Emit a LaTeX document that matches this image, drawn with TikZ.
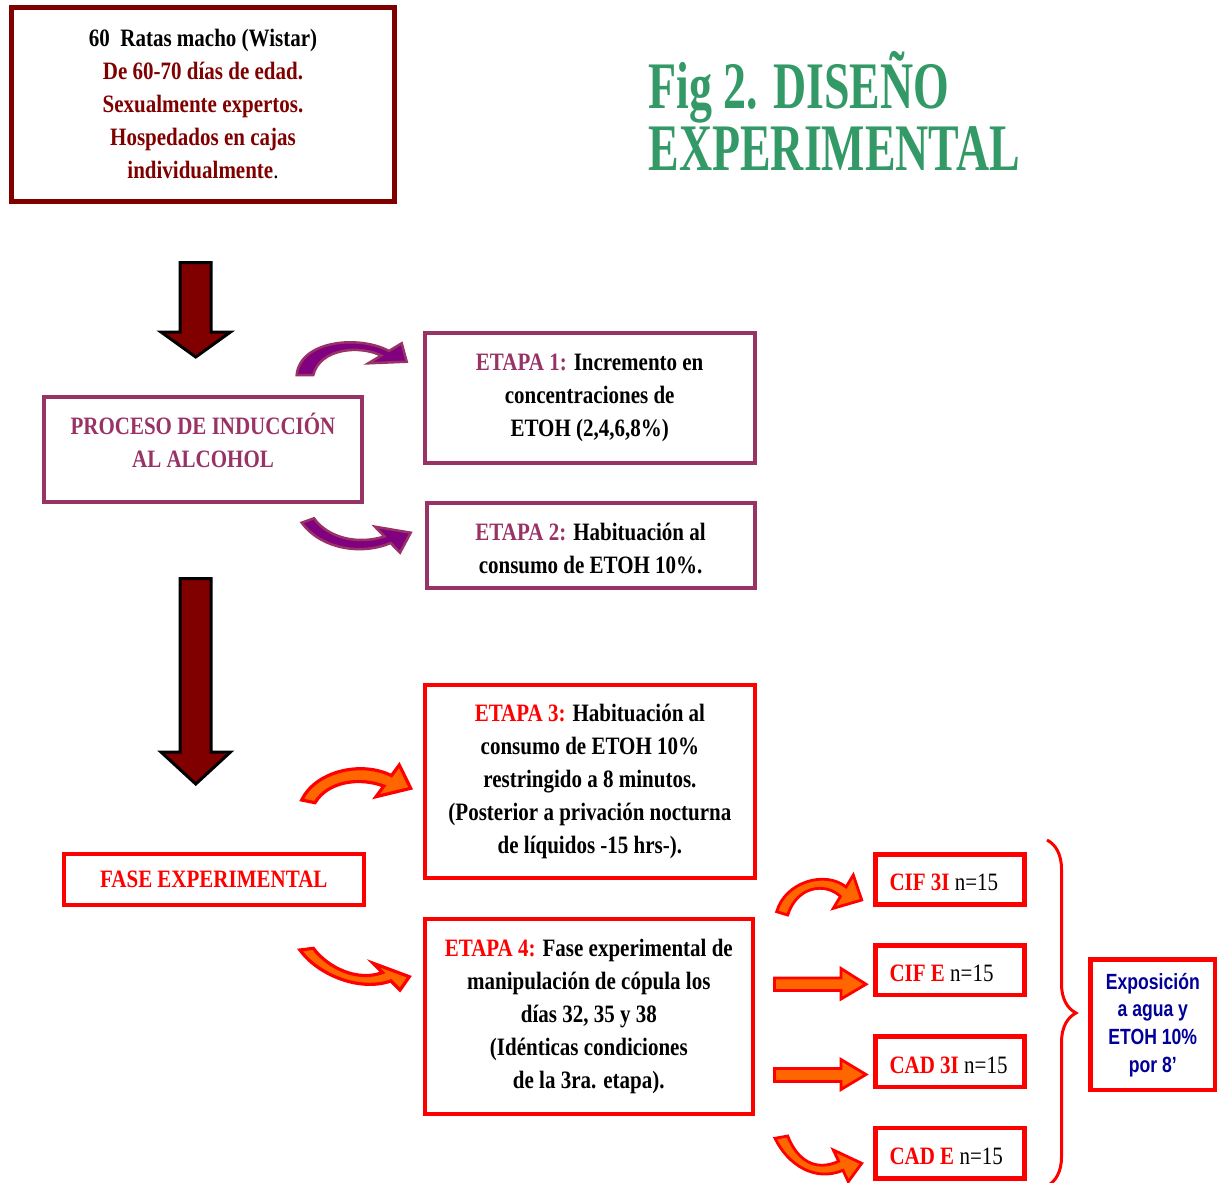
\documentclass[tikz,border=0pt]{standalone}
\usepackage{fontspec}
\setmainfont{Liberation Serif}[FakeStretch=0.84]
\newfontfamily\titlefont{Liberation Serif}[FakeStretch=0.69]
\newfontfamily\narrowsans{Liberation Sans}[FakeStretch=0.8]
\usetikzlibrary{decorations.pathreplacing}
\definecolor{maroonc}{RGB}{128,0,0}
\definecolor{plum}{RGB}{153,51,102}
\definecolor{purplefill}{RGB}{128,0,128}
\definecolor{orangefill}{RGB}{255,102,0}
\definecolor{redc}{RGB}{255,0,0}
\definecolor{greenc}{RGB}{51,153,102}
\definecolor{navyc}{RGB}{0,0,153}
\begin{document}
\begin{tikzpicture}[x=1pt,y=-1pt,
  body/.style={font=\bfseries\fontsize{25}{33}\selectfont, align=center, inner sep=0pt},
  maroonbox/.style={draw=maroonc, line width=4.5pt, inner sep=0pt},
  plumbox/.style={draw=plum, line width=4pt, inner sep=0pt},
  redbox/.style={draw=redc, line width=4.2pt, inner sep=0pt},
  smalltext/.style={anchor=base west, inner sep=0pt, font=\fontsize{25}{30}\selectfont},
  purplearrow/.style={fill=purplefill, draw=plum, line width=2.5pt, line join=miter},
  orangearrow/.style={fill=orangefill, draw=redc, line width=3.2pt, line join=miter},
  smallarrow/.style={fill=orangefill, draw=redc, line width=2.8pt, line join=miter},
  darkarrow/.style={fill=maroonc, draw=black, line width=3pt, line join=miter}]
\fill[white] (0,0) rectangle (1219,1183);
\useasboundingbox (0,0) rectangle (1219,1183);

% title
\node[anchor=base west, inner sep=0pt, text=greenc, font=\titlefont\bfseries\fontsize{66.5}{70}\selectfont] (title1) at (648.3,108.3) {Fig 2. DISEÑO};
\node[anchor=base west, inner sep=0pt, text=greenc, font=\titlefont\bfseries\fontsize{66.5}{70}\selectfont] (title2) at (648.3,170.7) {EXPERIMENTAL};

% top box
\node[maroonbox, body, text=maroonc, minimum width=382.6, minimum height=194] (top) at (203,104.5)
  {\textcolor{black}{60~~Ratas macho (Wistar)}\\De 60-70 días de edad.\\Sexualmente expertos.\\Hospedados en cajas\\individualmente\textcolor{black}{\mdseries.}};

% induction box
\node[plumbox, minimum width=318, minimum height=104.5] (proc) at (203,449.25) {};
\node[body, text=plum] (proctext) at (203,440) {PROCESO DE INDUCCIÓN\\AL ALCOHOL};

% etapa 1, 2
\node[plumbox, body, minimum width=330, minimum height=130] (e1) at (589.7,397.8)
  {\textcolor{plum}{ETAPA 1:} Incremento en\\concentraciones de\\ETOH (2,4,6,8\%)};
\node[plumbox, minimum width=328.2, minimum height=84.5] (e2) at (590.6,545.5) {};
\node[body] (e2text) at (590.6,548) {\textcolor{plum}{ETAPA 2:} Habituación al\\consumo de ETOH 10\%.};

% fase experimental
\node[redbox, body, text=redc, minimum width=300, minimum height=51.2] (fase) at (213.8,879.4) {FASE EXPERIMENTAL};

% etapa 3, 4
\node[redbox, body, minimum width=329.7, minimum height=193.3] (e3) at (589.9,781.7)
  {\textcolor{redc}{ETAPA 3:} Habituación al\\consumo de ETOH 10\%\\restringido a 8 minutos.\\(Posterior a privación nocturna\\de líquidos -15 hrs-).};
\node[redbox, body, minimum width=328.1, minimum height=194.6] (e4) at (588.8,1016.5)
  {\textcolor{redc}{ETAPA 4:} Fase experimental de\\manipulación de cópula los\\días 32, 35 y 38\\(Idénticas condiciones\\de la 3ra. etapa).};

% small group boxes
\node[redbox, minimum width=149, minimum height=50] (cif3) at (950,879.5) {};
\node[smalltext] (cif3t) at (889.3,890) {\textcolor{redc}{\bfseries CIF 3I} n=15};
\node[redbox, minimum width=149, minimum height=49.7] (cife) at (950,970.3) {};
\node[smalltext] (cifet) at (889.3,981.7) {\textcolor{redc}{\bfseries CIF E} n=15};
\node[redbox, minimum width=149, minimum height=50.7] (cad3) at (950,1061.8) {};
\node[smalltext] (cad3t) at (889.3,1073.3) {\textcolor{redc}{\bfseries CAD 3I} n=15};
\node[redbox, minimum width=149, minimum height=50.7] (cade) at (950,1153.2) {};
\node[smalltext] (cadet) at (889.3,1164.3) {\textcolor{redc}{\bfseries CAD E} n=15};

% exposure box
\node[redbox, text=navyc, align=center, font=\narrowsans\bfseries\fontsize{22}{27.7}\selectfont, minimum width=124.5, minimum height=130.8] (expo) at (1152.8,1024.9)
  {Exposición\\a agua y\\ETOH 10\%\\por 8’};

% brace
\draw[redc, line width=3pt, decorate, decoration={brace, amplitude=29pt}] (1047,840) -- (1047,1186);

% dark red down arrows
\filldraw[darkarrow] (180,262.5) -- (211,262.5) -- (211,332) -- (230.5,332) -- (195.75,357) -- (161,332) -- (180,332) -- cycle;
\filldraw[darkarrow] (180,578.5) -- (211,578.5) -- (211,752) -- (230.5,752) -- (195.75,784) -- (161,752) -- (180,752) -- cycle;

% purple curved arrows
\filldraw[purplearrow] (296.7,375) .. controls (300,340) and (360,335) .. (388.9,351) -- (401.7,343.3) -- (406.7,361.7) -- (368.3,363.3) -- (381.1,355.6) .. controls (360,345) and (320,348) .. (313.3,375) -- cycle;
\filldraw[purplearrow] (301.7,522.7) .. controls (320,548) and (360,556) .. (390.6,543) -- (400,552.7) -- (410.7,532.7) -- (375,526.7) -- (384.4,536.4) .. controls (358,545) and (328,538) .. (314,518.3) -- cycle;

% orange curved arrows
\filldraw[orangearrow] (301.7,800) .. controls (315,772) and (360,760) .. (391.5,775.6) -- (399.3,765) -- (410.7,788.3) -- (376,796.7) -- (383.8,786.1) .. controls (360,777) and (328,781) .. (315,802.7) -- cycle;
\filldraw[orangearrow] (300,950) .. controls (318,975) and (360,992) .. (390.9,980.9) -- (400,990) -- (409.3,976.7) -- (373.3,963.3) -- (382.5,972.5) .. controls (358,982) and (328,968) .. (313.3,948.3) -- cycle;

% small arrows to groups
\filldraw[smallarrow] (776.7,911.7) .. controls (785,882) and (825,870) .. (846.1,887) -- (853.3,875) -- (861.7,900) -- (833.3,908.3) -- (840.5,896.4) .. controls (825,882) and (797,886) .. (787.7,915) -- cycle;
\filldraw[smallarrow] (774.5,978) -- (841,978) -- (841,968.5) -- (866,984.25) -- (841,999) -- (841,990.5) -- (774.5,990.5) -- cycle;
\filldraw[smallarrow] (774.5,1068.5) -- (841,1068.5) -- (841,1059.5) -- (866,1074.5) -- (841,1089.5) -- (841,1081.5) -- (774.5,1081.5) -- cycle;
\filldraw[smallarrow] (775,1138.3) .. controls (788,1165) and (815,1182) .. (843,1170.3) -- (848.3,1181.7) -- (861.7,1163.3) -- (833.3,1150) -- (838.7,1161.3) .. controls (815,1172) and (797,1160) .. (787.7,1136) -- cycle;
\end{tikzpicture}
\end{document}
